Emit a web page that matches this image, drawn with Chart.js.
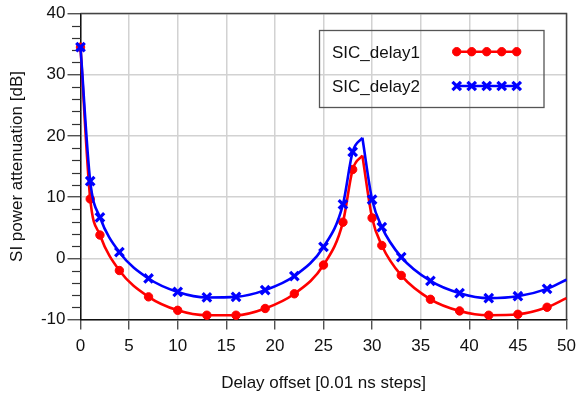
<!DOCTYPE html>
<html>
<head>
<meta charset="utf-8">
<script src="https://cdn.jsdelivr.net/npm/chart.js@4/dist/chart.umd.min.js"></script>
<style>
  html, body { margin: 0; padding: 0; background: #ffffff; }
  #wrap { width: 576px; height: 394px; }
</style>
</head>
<body>
<div id="wrap"><canvas id="c" width="576" height="394"></canvas></div>
<script>
// ---- data ----
const delay      = [0, 1, 2, 4, 7, 10, 13, 16, 19, 22, 25, 27, 28, 29, 30, 31, 33, 36, 39, 42, 45, 48, 50];
const sicDelay1  = [34.5, 9.7, 3.8, -2.0, -6.3, -8.5, -9.3, -9.3, -8.2, -5.8, -1.1, 5.9, 14.5, 16.8, 6.6, 2.1, -2.8, -6.7, -8.6, -9.3, -9.15, -8.0, -6.5];
const sicDelay2  = [34.5, 12.6, 6.7, 1.0, -3.3, -5.5, -6.4, -6.3, -5.2, -2.9, 1.85, 8.8, 17.4, 19.7, 9.6, 5.1, 0.2, -3.7, -5.7, -6.5, -6.2, -5.0, -3.5];
const seriesNames = ['SIC_delay1', 'SIC_delay2'];
const xTicks = [0, 5, 10, 15, 20, 25, 30, 35, 40, 45, 50];
const yTicks = [-10, 0, 10, 20, 30, 40];
const peakDelay = 29;          // sharp peak: curve is split here
const noMarkerAt = [29, 50];   // points on the curve without a marker

const FONT = "'Liberation Sans', Arial, Helvetica, sans-serif";
const RED = '#ff0000';
const BLUE = '#0000ff';
const CROSS_R = 6, CROSS_W = 3.2, DOT_R = 4.2;

function pts(vals, from, to) {
  const out = [];
  for (let i = 0; i < delay.length; i++) {
    if (delay[i] >= from && delay[i] <= to) out.push({ x: delay[i], y: vals[i] });
  }
  return out;
}

function makeSet(label, vals, color, style, from, to) {
  const isCross = style === 'crossRot';
  return {
    label: label,
    data: pts(vals, from, to),
    borderColor: color,
    backgroundColor: color,
    borderWidth: 2.6,
    cubicInterpolationMode: 'monotone',
    pointStyle: style,
    pointRadius: (c) => (c.raw && noMarkerAt.includes(c.raw.x)) ? 0 : (isCross ? CROSS_R : DOT_R),
    pointBorderWidth: isCross ? CROSS_W : 1,
    pointBackgroundColor: color,
    pointBorderColor: color,
    pointHoverRadius: 0,
    clip: false
  };
}

const datasets = [
  makeSet(seriesNames[1], sicDelay2, BLUE, 'crossRot', 0, peakDelay),
  makeSet(seriesNames[1], sicDelay2, BLUE, 'crossRot', peakDelay, 50),
  makeSet(seriesNames[0], sicDelay1, RED, 'circle', 0, peakDelay),
  makeSet(seriesNames[0], sicDelay1, RED, 'circle', peakDelay, 50)
];

const AREA = { left: 80.5, right: 566.5, top: 13.5, bottom: 319.5 };

const decor = {
  id: 'decor',
  beforeDatasetsDraw(chart) {
    const { ctx, chartArea: a, scales } = chart;
    const y = scales.y;
    ctx.save();
    // minor ticks on the y axis
    ctx.strokeStyle = '#333';
    ctx.lineWidth = 1.2;
    for (let v = -10; v <= 40; v += 2) {
      if (v % 10 === 0) continue;
      const py = Math.round(y.getPixelForValue(v)) + 0.5;
      ctx.beginPath();
      ctx.moveTo(a.left - 8.5, py);
      ctx.lineTo(a.left, py);
      ctx.stroke();
    }
    // frame top and right
    ctx.strokeStyle = '#444';
    ctx.lineWidth = 1.5;
    ctx.beginPath();
    ctx.moveTo(a.left, a.top);
    ctx.lineTo(a.right, a.top);
    ctx.lineTo(a.right, a.bottom);
    ctx.stroke();
    ctx.restore();
  },
  afterDatasetsDraw(chart) {
    const ctx = chart.ctx;
    ctx.save();
    // legend box
    ctx.strokeStyle = '#555';
    ctx.lineWidth = 1.3;
    ctx.strokeRect(319.5, 30.5, 224.5, 77);
    const entries = [
      { name: seriesNames[0], color: RED, style: 'circle', ty: 53.5, ly: 51.7 },
      { name: seriesNames[1], color: BLUE, style: 'crossRot', ty: 87.5, ly: 86 }
    ];
    ctx.font = '17px ' + FONT;
    ctx.textBaseline = 'middle';
    ctx.textAlign = 'left';
    for (const e of entries) {
      const isCross = e.style === 'crossRot';
      ctx.fillStyle = '#111';
      ctx.fillText(e.name, 332, e.ty);
      ctx.strokeStyle = e.color;
      ctx.lineWidth = 2.6;
      ctx.beginPath();
      ctx.moveTo(456.5, e.ly);
      ctx.lineTo(516.5, e.ly);
      ctx.stroke();
      ctx.fillStyle = e.color;
      ctx.strokeStyle = e.color;
      ctx.lineWidth = isCross ? CROSS_W : 1;
      for (let k = 0; k < 5; k++) {
        const px = 456.7 + k * 15;
        Chart.helpers.drawPoint(ctx, {
          pointStyle: e.style,
          radius: isCross ? CROSS_R : DOT_R,
          borderWidth: isCross ? CROSS_W : 1,
          rotation: 0
        }, px, e.ly);
      }
    }
    ctx.restore();
  }
};

new Chart(document.getElementById('c'), {
  type: 'line',
  data: { datasets: datasets },
  options: {
    responsive: false,
    devicePixelRatio: 1,
    animation: false,
    events: [],
    layout: { padding: { left: 0, right: 576 - AREA.right, top: AREA.top, bottom: 0 } },
    plugins: { legend: { display: false }, tooltip: { enabled: false } },
    scales: {
      x: {
        type: 'linear',
        min: 0, max: 50,
        afterBuildTicks: (s) => { s.ticks = xTicks.map(v => ({ value: v })); },
        afterFit: (s) => { s.height = 394 - AREA.bottom; s.paddingLeft = 0; s.paddingRight = 0; },
        grid: { color: '#d2d2d2', lineWidth: 1.5, tickColor: '#333', tickLength: 10, tickWidth: 1.2 },
        border: { color: '#111', width: 1.5 },
        ticks: { color: '#111', font: { family: FONT, size: 17 }, padding: 7, maxRotation: 0 },
        title: { display: true, text: 'Delay offset [0.01 ns steps]', color: '#111', font: { family: FONT, size: 17 }, padding: { top: 4, bottom: 0 } }
      },
      y: {
        type: 'linear',
        min: -10, max: 40,
        afterBuildTicks: (s) => { s.ticks = yTicks.map(v => ({ value: v })); },
        afterFit: (s) => { s.width = AREA.left; s.paddingTop = 0; s.paddingBottom = 0; },
        grid: { color: '#d2d2d2', lineWidth: 1.5, tickColor: '#333', tickLength: 13, tickWidth: 1.2 },
        border: { color: '#111', width: 1.5 },
        ticks: { color: '#111', font: { family: FONT, size: 17 }, padding: 2 },
        title: { display: true, text: 'SI power attenuation [dB]', color: '#111', font: { family: FONT, size: 17 }, padding: { top: 7, bottom: 0 } }
      }
    }
  },
  plugins: [decor]
});
</script>
</body>
</html>
